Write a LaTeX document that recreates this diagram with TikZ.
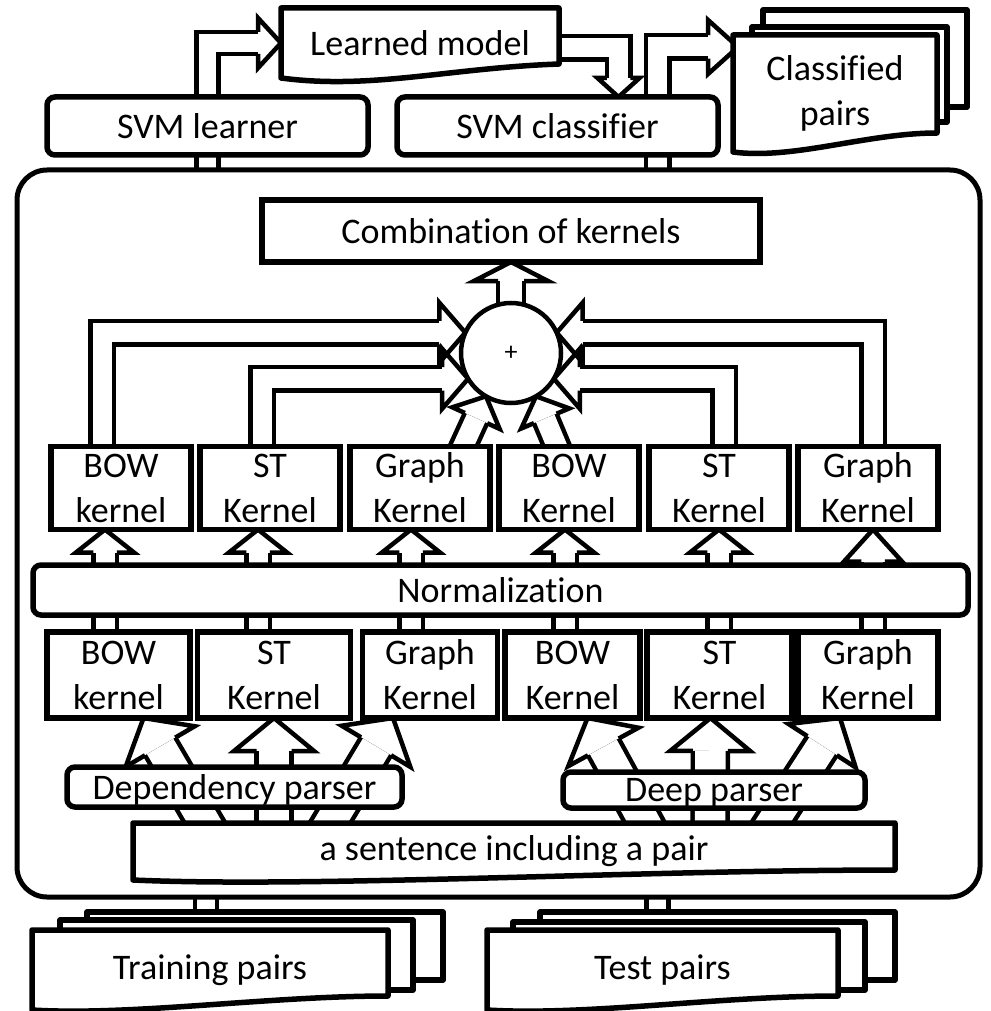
\documentclass[tikz,border=0pt]{standalone}
\usepackage{fontspec}
\setmainfont{Carlito}[Ligatures=NoCommon]
\usetikzlibrary{calc, positioning, backgrounds}

\tikzset{
  txt/.style={outer sep=0pt, inner sep=0pt, align=center, font=\fontsize{36}{45}\selectfont},
  box/.style={txt, draw, fill=white, line width=5.5pt},
  rbox/.style={box, rounded corners=8pt},
  doc/.style={draw, fill=white, line width=5.5pt, line join=round},
  shaft/.style={line width=4.5pt, double=white, double distance=#1},
  shaft/.default=19pt,
}

% open arrow head, no back line between the shaft lines:
% #1 point behind, #2 tip, #3 half width, #4 length, #5 half shaft spacing
\newcommand{\hollowhead}[5]{%
  \coordinate (hd-tail) at #1;
  \coordinate (hd-tip) at #2;
  \coordinate (hd-back) at ($(hd-tip)!#4!(hd-tail)$);
  \draw[line width=4.5pt, line join=miter, line cap=square]
    ($(hd-back)!#5!90:(hd-tip)$) -- ($(hd-back)!#3!90:(hd-tip)$) -- (hd-tip)
    -- ($(hd-back)!#3!-90:(hd-tip)$) -- ($(hd-back)!#5!-90:(hd-tip)$);
}

\begin{document}
\begin{tikzpicture}[x=1pt, y=-1pt, line width=4.5pt]
\useasboundingbox (0,0) rectangle (990,1011);

% SVM part
\node[rbox, minimum width=321pt, minimum height=58pt] (learner) at (207.5,126) {SVM learner};
\node[rbox, minimum width=321pt, minimum height=58pt] (classifier) at (557.5,126) {SVM classifier};
\node[txt, minimum width=278pt, minimum height=70pt] (model) at (420,43) {Learned model};
\node[txt, minimum width=204pt, minimum height=117pt] (pairs) at (835,93.5) {Classified\\pairs};

% kernel part
\node[draw, line width=5pt, rounded corners=30pt, outer sep=0pt, minimum width=963pt, minimum height=727pt] (frame) at (498.5,533.5) {};
\node[box, minimum width=498pt, minimum height=62pt] (comb) at (511,231) {Combination of kernels};
\node[box, circle, line width=4.5pt, minimum size=100pt, font=\fontsize{26}{26}\selectfont] (plus) at (511,353) {+};

\foreach \i/\x/\t in {1/121/{BOW\\kernel}, 2/270/{ST\\Kernel}, 3/420/{Graph\\Kernel},
                      4/569/{BOW\\Kernel}, 5/719/{ST\\Kernel}, 6/868/{Graph\\Kernel}}
  \node[box, minimum width=140pt, minimum height=83pt] (k\i) at (\x,488) {\t};

\node[rbox, minimum width=935pt, minimum height=50pt] (norm) at (500.5,590) {Normalization};

\foreach \i/\x/\w/\t in {1/118.5/143/{BOW\\kernel}, 2/274/153/{ST\\Kernel}, 3/430/135/{Graph\\Kernel},
                         4/572.5/135/{BOW\\Kernel}, 5/719.5/145/{ST\\Kernel}, 6/868/140/{Graph\\Kernel}}
  \node[box, minimum width=\w pt, minimum height=86pt] (b\i) at (\x,675) {\t};

\node[rbox, text depth=0pt, minimum width=335pt, minimum height=40pt] (dep) at (234.5,787) {Dependency parser};
\node[rbox, text depth=0pt, minimum width=302pt, minimum height=36pt] (deep) at (714,790) {Deep parser};
\node[txt, minimum width=762pt, minimum height=57pt] (sentence) at (514,851.5) {a sentence including a pair};

% input data
\node[txt, minimum width=356pt, minimum height=80pt] (train) at (210,970) {Training pairs};
\node[txt, minimum width=351pt, minimum height=80pt] (test) at (662.5,970) {Test pairs};

\begin{scope}[on background layer]
% learner -> model -> classifier -> results
\hollowhead{(learner.north |- model.west)}{(model.west)}{25pt}{23pt}{11pt}
\draw[shaft=17.5pt] (learner.north) |- (hd-back);

\coordinate (mdl-out) at ($(model.east)+(0,5)$);
\coordinate (cls-in) at ($(classifier.north)+(61,0)$);
\hollowhead{(mdl-out -| cls-in)}{(cls-in)}{21pt}{19pt}{11.75pt}
\draw[shaft] (mdl-out) -| (hd-back);

\coordinate (cls-out) at ($(classifier.north)+(100,0)$);
\coordinate (pairs-in) at ($(pairs.north west)+(5,12)$);
\hollowhead{(cls-out |- pairs-in)}{(pairs-in)}{27pt}{30pt}{11.75pt}
\draw[shaft] (cls-out) |- (hd-back);

% links through the frame
\draw[shaft=17.5pt] (learner.south |- frame.north) -- (learner.south);
\draw[shaft] (cls-out |- frame.north) -- (cls-out |- classifier.south);
\coordinate (train-top) at ($(train.north)+(-4,-18)$);
\coordinate (test-top) at ($(test.north)+(-5,-18)$);
\draw[shaft=17.5pt] (train-top) -- (train-top |- frame.south);
\draw[shaft=17.5pt] (test-top) -- (test-top |- frame.south);

% sentence through the parsers into the kernels
\foreach \dx/\k/\tx in {-309/1/25, -240/2/0, -184/3/-37, 131/4/15, 196/5/-9, 258/6/-28} {
  \hollowhead{($(sentence.north)+(\dx,0)$)}{($(b\k.south)+(\tx,0)$)}{40pt}{33pt}{17.5pt}
  \draw[shaft=30.5pt, shorten <=-30pt] ($(sentence.north)+(\dx,0)$) -- (hd-back);
}

% kernels -> normalization -> kernels
\foreach \i/\x/\l in {1/105/23pt, 2/258/23pt, 3/411/23pt, 4/565/23pt, 5/719/23pt, 6/873/32pt} {
  \coordinate (col) at (\x,0);
  \draw[shaft] (col |- b\i.north) -- (col |- norm.south);
  \hollowhead{(col |- norm.north)}{(col |- k\i.south)}{29pt}{\l}{11.75pt}
  \draw[shaft] (col |- norm.north) -- (hd-back);
}

% into the sum
\foreach \k/\dx/\a in {1/-19/156, 2/-8/211, 6/5/24, 5/5/329} {
  \coordinate (src) at ($(k\k.north)+(\dx,0)$);
  \hollowhead{(src |- plus.\a)}{(plus.\a)}{30pt}{26pt}{11.75pt}
  \draw[shaft] (src) |- (hd-back);
}
\hollowhead{($(k3.north)+(43,0)$)}{(plus.240)}{26pt}{24pt}{12.25pt}
\draw[shaft=20pt, shorten <=-10pt] ($(k3.north)+(43,0)$) -- (hd-back);
\hollowhead{($(k4.north)+(-12,0)$)}{(plus.300)}{26pt}{24pt}{12.25pt}
\draw[shaft=20pt, shorten <=-10pt] ($(k4.north)+(-12,0)$) -- (hd-back);

\hollowhead{(plus.north)}{(comb.south)}{37pt}{19pt}{13pt}
\draw[shaft=21.5pt] (plus.north) -- (hd-back);

% document outlines
\filldraw[doc] (model.north west) -- (model.north east) -- ($(model.south east)+(0,-14)$)
  .. controls +(-110,4) and +(90,12) .. (model.south west) -- cycle;

\filldraw[doc] ($(pairs.north west)+(30,-25)$) rectangle ($(pairs.south east)+(30,-45)$);
\filldraw[doc] ($(pairs.north west)+(19,-8)$) rectangle ($(pairs.south east)+(10,-30)$);
\filldraw[doc] (pairs.north west) -- (pairs.north east) -- ($(pairs.south east)+(0,-19)$)
  .. controls +(-70,0) and +(60,8) .. (pairs.south west) -- cycle;

\filldraw[doc] (sentence.north west) -- (sentence.north east) -- ($(sentence.south east)+(0,-10)$)
  .. controls +(-250,0) and +(180,8) .. (sentence.south west) -- cycle;

\filldraw[doc] ($(train.north west)+(55,-18)$) rectangle ($(train.south east)+(55,-30)$);
\filldraw[doc] ($(train.north west)+(28,-10)$) rectangle ($(train.south east)+(25,-20)$);
\filldraw[doc] (train.north west) -- (train.north east) -- ($(train.south east)+(0,-14)$)
  .. controls +(-120,0) and +(100,6) .. (train.south west) -- cycle;

\filldraw[doc] ($(test.north west)+(53,-18)$) rectangle ($(test.south east)+(57,-30)$);
\filldraw[doc] ($(test.north west)+(26,-8)$) rectangle ($(test.south east)+(27,-20)$);
\filldraw[doc] (test.north west) -- (test.north east) -- ($(test.south east)+(0,-14)$)
  .. controls +(-120,0) and +(100,6) .. (test.south west) -- cycle;
\end{scope}
\end{tikzpicture}
\end{document}
